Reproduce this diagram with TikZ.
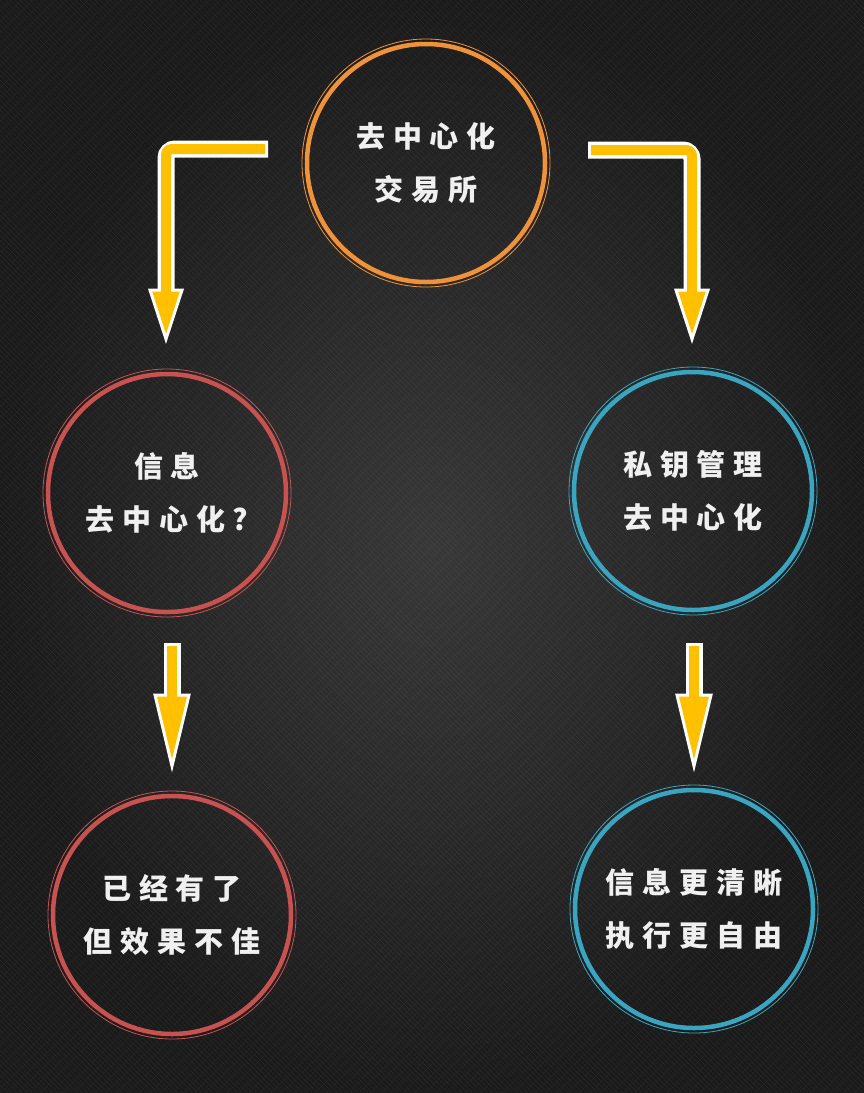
\documentclass[tikz,border=0pt]{standalone}
\usepackage{fontspec}
\usetikzlibrary{calc}
\newfontfamily\cjk[LetterSpace=27]{Noto Sans CJK SC}
\definecolor{ringO}{RGB}{240,146,58}
\definecolor{ringR}{RGB}{200,82,80}
\definecolor{ringB}{RGB}{58,165,192}
\definecolor{arrY}{RGB}{255,192,0}
\definecolor{txt}{RGB}{240,240,240}
\tikzset{
  ring/.style={circle, draw=#1, line width=4.5pt, inner sep=0pt, minimum size=238pt,
    text=txt, align=center, font=\cjk\bfseries\fontsize{29}{53}\selectfont},
  thinring/.style={draw=#1, line width=0.8pt},
  shaftW/.style={draw=white, line width=17pt, rounded corners=9pt, shorten <=-3pt},
  shaftY/.style={draw=arrY, line width=10pt, rounded corners=6pt},
  headS/.style={fill=arrY, draw=white, line width=3pt, line join=miter}
}
\begin{document}
\begin{tikzpicture}[x=1pt,y=-1pt]
\useasboundingbox (0,0) rectangle (864,1093);
\shade[inner color={rgb,255:red,56;green,56;blue,56}, outer color={rgb,255:red,26;green,26;blue,26}] (0,0) rectangle (864,1093);
\begin{scope}
\clip (0,0) rectangle (864,1093);
\foreach \i in {-1100,-1095,...,870} {
  \draw[white, opacity=0.05, line width=0.7pt] (\i,0) -- ++(1093,1093);
}
\foreach \i in {-1100,-1089,...,1970} {
  \draw[white, opacity=0.03, line width=0.6pt] (\i,0) -- ++(-1093,1093);
}
\end{scope}

% circles
\node[ring=ringO] (top) at (426,163) {去中心化\\交易所};
\node[ring=ringR] (lm) at (167,493) {信息\\去中心化?};
\node[ring=ringB] (rm) at (693,491) {私钥管理\\去中心化};
\node[ring=ringR] (lb) at (172,915) {已经有了\\但效果不佳};
\node[ring=ringB] (rb) at (694,909) {信息更清晰\\执行更自由};
\draw[thinring=ringO] (top) circle (124pt);
\draw[thinring=ringR] (lm) circle (124pt);
\draw[thinring=ringB] (rm) circle (124pt);
\draw[thinring=ringR] (lb) circle (124pt);
\draw[thinring=ringB] (rb) circle (124pt);

% arrow coordinates
\coordinate (s1) at (265,149);
\coordinate (h1) at (166,290);
\coordinate (t1) at (166,339);
\coordinate (s2) at (591,150);
\coordinate (h2) at (692,290);
\coordinate (t2) at (692,339);
\coordinate (s3) at (172,646);
\coordinate (h3) at (172,695);
\coordinate (t3) at (172,766);
\coordinate (s4) at (694,646);
\coordinate (h4) at (694,695);
\coordinate (t4) at (694,766);

% L arrows
\draw[shaftW] (s1) -| (h1);
\draw[headS] ($(h1)+(-16,0)$) -- ($(h1)+(16,0)$) -- (t1) -- cycle;
\draw[shaftY] (s1) -| ($(h1)+(0,3)$);

\draw[shaftW] (s2) -| (h2);
\draw[headS] ($(h2)+(-16,0)$) -- ($(h2)+(16,0)$) -- (t2) -- cycle;
\draw[shaftY] (s2) -| ($(h2)+(0,3)$);

% straight arrows
\draw[shaftW] (s3) -- (h3);
\draw[headS] ($(h3)+(-17,0)$) -- ($(h3)+(17,0)$) -- (t3) -- cycle;
\draw[shaftY] (s3) -- ($(h3)+(0,3)$);

\draw[shaftW] (s4) -- (h4);
\draw[headS] ($(h4)+(-17,0)$) -- ($(h4)+(17,0)$) -- (t4) -- cycle;
\draw[shaftY] (s4) -- ($(h4)+(0,3)$);
\end{tikzpicture}
\end{document}
